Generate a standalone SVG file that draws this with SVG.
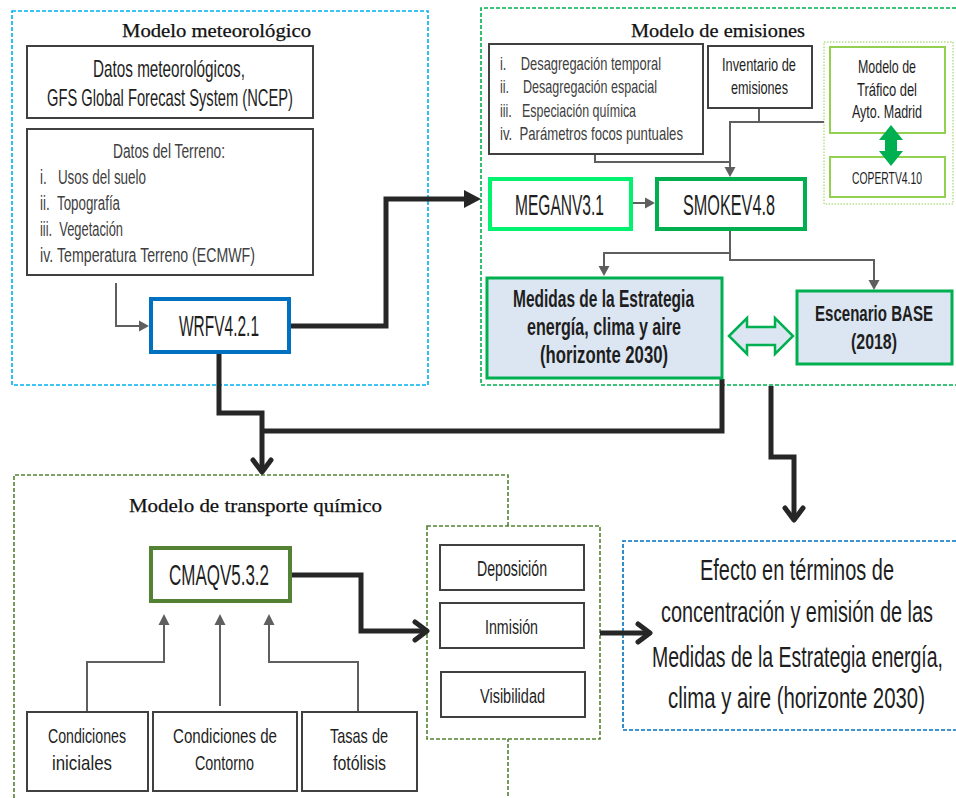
<svg xmlns="http://www.w3.org/2000/svg" width="956" height="798" viewBox="0 0 956 798">
<style>
.bg{fill:#ffffff}
.box{fill:#ffffff;stroke:#404040;stroke-width:2}
.t{font-family:"Liberation Sans",Arial,sans-serif;fill:#1e1e1e}
.g{fill:#404040}
.b{font-weight:bold}
.ttl{font-family:"Liberation Serif","DejaVu Serif",serif;fill:#111111;font-size:18px;stroke:#111111;stroke-width:0.25}
.thin{fill:none;stroke:#5f5f5f;stroke-width:2}
.thinhead{fill:#5f5f5f}
.thick{fill:none;stroke:#262626;stroke-width:5;stroke-linejoin:miter}
.chev{fill:none;stroke:#262626;stroke-width:5;stroke-linecap:round;stroke-linejoin:round}
.dash{fill:none;stroke-width:1.6;stroke-dasharray:4 2}
</style>
<rect class="bg" x="0" y="0" width="956" height="798"/>

<!-- containers -->
<g id="cont-meteo">
<rect class="dash" x="12" y="11" width="416" height="374" stroke="#00b0f0"/>
<text class="ttl" x="122" y="37" textLength="189" lengthAdjust="spacingAndGlyphs">Modelo meteorológico</text>
</g>
<g id="cont-emis">
<path class="dash" d="M956,8 H481 V385 H956" stroke="#00b050"/>
<text class="ttl" x="631" y="37" textLength="174" lengthAdjust="spacingAndGlyphs">Modelo de emisiones</text>
</g>
<g id="cont-trafico">
<rect x="824" y="42" width="129" height="162" fill="none" stroke="#92d050" stroke-width="1" stroke-dasharray="1.5 1.5"/>
</g>
<g id="cont-cmaq">
<path class="dash" d="M14,798 V475 H508 V798" stroke="#548235"/>
<text class="ttl" x="129" y="512" style="font-size:19px" textLength="253" lengthAdjust="spacingAndGlyphs">Modelo de transporte químico</text>
</g>
<g id="cont-salidas">
<rect class="dash" x="427" y="526" width="173" height="213" style="fill:#ffffff" stroke="#548235"/>
</g>
<g id="cont-efecto">
<path class="dash" d="M956,541 H623 V730 H956" stroke="#0070c0"/>
<text class="t" transform="translate(700,580) scale(0.7,1)" font-size="29" textLength="277.1" lengthAdjust="spacingAndGlyphs">Efecto en términos de</text>
<text class="t" transform="translate(661,622) scale(0.7,1)" font-size="29" textLength="388.6" lengthAdjust="spacingAndGlyphs">concentración y emisión de las</text>
<text class="t" transform="translate(652,667) scale(0.7,1)" font-size="29" textLength="415.7" lengthAdjust="spacingAndGlyphs">Medidas de la Estrategia energía,</text>
<text class="t" transform="translate(668,708) scale(0.7,1)" font-size="29" textLength="367.1" lengthAdjust="spacingAndGlyphs">clima y aire (horizonte 2030)</text>
</g>

<!-- connectors -->
<g id="connectors">
<path class="thin" d="M116,283 V326 H140"/>
<polygon class="thinhead" points="149,326 139,320.5 139,331.5"/>
<path class="thin" d="M595,154 V162 H730"/>
<path class="thin" d="M759,108 V122"/>
<path class="thin" d="M824,122 H730 V168"/>
<polygon class="thinhead" points="730,177 724.5,167 735.5,167"/>
<path class="thin" d="M632,203 H646"/>
<polygon class="thinhead" points="655,203 645,197.5 645,208.5"/>
<path class="thin" d="M730,230 V253 H604 V267"/>
<polygon class="thinhead" points="604,276 598.5,266 609.5,266"/>
<path class="thin" d="M730,253 V260 H874 V281"/>
<polygon class="thinhead" points="874,290 868.5,280 879.5,280"/>
<path class="thin" d="M87,712 V662 H164 V624"/>
<polygon class="thinhead" points="164,614 158.5,625 169.5,625"/>
<path class="thin" d="M220,706 V624"/>
<polygon class="thinhead" points="220,614 214.5,625 225.5,625"/>
<path class="thin" d="M358,712 V662 H269 V624"/>
<polygon class="thinhead" points="269,614 263.5,625 274.5,625"/>

<path class="thick" d="M291,326 H386 V199 H466"/>
<polygon fill="#262626" points="481,199 464,190 464,208"/>
<path class="thick" d="M219,354 V413 H262 V471"/>
<polyline class="chev" points="253,460 262,472 271,460"/>
<path class="thick" d="M722,379 V431 H262"/>
<path class="thick" d="M771,386 V457 H794 V519"/>
<polyline class="chev" points="785,508 794,520 803,508"/>
<path class="thick" d="M291,575 H361 V631 H427"/>
<polyline class="chev" points="415,622 427,631 415,640"/>
<path class="thick" d="M600,633 H650"/>
<polyline class="chev" points="638,624 650,633 638,642"/>

<polygon fill="#dce6f2" stroke="#00b050" stroke-width="2.5" stroke-linejoin="miter" points="729,336 747,318 747,327 775,327 775,318 793,336 775,354 775,345 747,345 747,354"/>
</g>

<!-- nodes -->
<g id="datos-met">
<rect class="box" x="27" y="46" width="286" height="72"/>
<text class="t" transform="translate(93,77) scale(0.7,1)" font-size="23" textLength="217.1" lengthAdjust="spacingAndGlyphs">Datos meteorológicos,</text>
<text class="t" transform="translate(47,106) scale(0.7,1)" font-size="23" textLength="351.4" lengthAdjust="spacingAndGlyphs">GFS Global Forecast System (NCEP)</text>
</g>
<g id="datos-terreno">
<rect class="box" x="27" y="129" width="286" height="146"/>
<text class="t g" transform="translate(113,158) scale(0.7,1)" font-size="21" textLength="160" lengthAdjust="spacingAndGlyphs">Datos del Terreno:</text>
<text class="t g" transform="translate(40,184) scale(0.7,1)" font-size="21" textLength="151.4" lengthAdjust="spacingAndGlyphs">i.&#160;&#160;&#160;Usos del suelo</text>
<text class="t g" transform="translate(40,210) scale(0.7,1)" font-size="21" textLength="114.3" lengthAdjust="spacingAndGlyphs">ii.&#160;&#160;Topografía</text>
<text class="t g" transform="translate(40,236) scale(0.7,1)" font-size="21" textLength="118.6" lengthAdjust="spacingAndGlyphs">iii.&#160;&#160;Vegetación</text>
<text class="t g" transform="translate(40,262) scale(0.7,1)" font-size="21" textLength="307.1" lengthAdjust="spacingAndGlyphs">iv.&#160;Temperatura Terreno (ECMWF)</text>
</g>
<g id="wrf">
<rect x="151" y="299" width="138" height="53" fill="#ffffff" stroke="#0070c0" stroke-width="4"/>
<text class="t" transform="translate(179,336) scale(0.7,1)" font-size="29" textLength="114.3" lengthAdjust="spacingAndGlyphs">WRFV4.2.1</text>
</g>
<g id="procesos">
<rect class="box" x="489" y="44" width="214" height="110"/>
<text class="t g" transform="translate(500,70) scale(0.7,1)" font-size="18" textLength="230" lengthAdjust="spacingAndGlyphs">i.&#160;&#160;&#160;&#160;Desagregación temporal</text>
<text class="t g" transform="translate(500,93) scale(0.7,1)" font-size="18" textLength="224.3" lengthAdjust="spacingAndGlyphs">ii.&#160;&#160;&#160;&#160;Desagregación espacial</text>
<text class="t g" transform="translate(500,117) scale(0.7,1)" font-size="18" textLength="194.3" lengthAdjust="spacingAndGlyphs">iii.&#160;&#160;&#160;Especiación química</text>
<text class="t g" transform="translate(500,140) scale(0.7,1)" font-size="18" textLength="261.4" lengthAdjust="spacingAndGlyphs">iv.&#160;&#160;Parámetros focos puntuales</text>
</g>
<g id="inventario">
<rect class="box" x="708" y="46" width="104" height="62"/>
<text class="t" transform="translate(722,71) scale(0.7,1)" font-size="18" textLength="105.7" lengthAdjust="spacingAndGlyphs">Inventario de</text>
<text class="t" transform="translate(731,94) scale(0.7,1)" font-size="18" textLength="81.4" lengthAdjust="spacingAndGlyphs">emisiones</text>
</g>
<g id="trafico">
<rect x="830" y="47" width="115" height="86" fill="#ffffff" stroke="#92d050" stroke-width="2"/>
<text class="t" transform="translate(858,73) scale(0.7,1)" font-size="18" textLength="82.9" lengthAdjust="spacingAndGlyphs">Modelo de</text>
<text class="t" transform="translate(857,96) scale(0.7,1)" font-size="18" textLength="85.7" lengthAdjust="spacingAndGlyphs">Tráfico del</text>
<text class="t" transform="translate(852,118) scale(0.7,1)" font-size="18" textLength="100" lengthAdjust="spacingAndGlyphs">Ayto. Madrid</text>
</g>
<g id="copert">
<rect x="830" y="157" width="115" height="40" fill="#ffffff" stroke="#92d050" stroke-width="2"/>
<text class="t" transform="translate(852,184) scale(0.7,1)" font-size="17" textLength="100" lengthAdjust="spacingAndGlyphs">COPERTV4.10</text>
</g>
<g id="megan">
<rect x="490" y="179" width="141" height="50" fill="#ffffff" stroke="#00f26e" stroke-width="4"/>
<text class="t" transform="translate(515,215) scale(0.7,1)" font-size="29" textLength="127.1" lengthAdjust="spacingAndGlyphs">MEGANV3.1</text>
</g>
<g id="smoke">
<rect x="657" y="179" width="148" height="50" fill="#ffffff" stroke="#00b050" stroke-width="4"/>
<text class="t" transform="translate(683,215) scale(0.7,1)" font-size="29" textLength="131.4" lengthAdjust="spacingAndGlyphs">SMOKEV4.8</text>
</g>
<g id="medidas">
<rect x="487" y="278" width="235" height="100" fill="#dce6f2" stroke="#00b050" stroke-width="3"/>
<text class="t b" transform="translate(513,307) scale(0.7,1)" font-size="23" textLength="258.6" lengthAdjust="spacingAndGlyphs">Medidas de la Estrategia</text>
<text class="t b" transform="translate(527,335) scale(0.7,1)" font-size="23" textLength="220" lengthAdjust="spacingAndGlyphs">energía, clima y aire</text>
<text class="t b" transform="translate(540,363) scale(0.7,1)" font-size="23" textLength="182.9" lengthAdjust="spacingAndGlyphs">(horizonte 2030)</text>
</g>
<g id="escenario">
<rect x="797" y="291" width="155" height="73" fill="#dce6f2" stroke="#00b050" stroke-width="3"/>
<text class="t b" transform="translate(815,321) scale(0.7,1)" font-size="22" textLength="168.6" lengthAdjust="spacingAndGlyphs">Escenario BASE</text>
<text class="t b" transform="translate(851,349) scale(0.7,1)" font-size="22" textLength="65.7" lengthAdjust="spacingAndGlyphs">(2018)</text>
</g>
<g id="cmaq">
<rect x="151" y="548" width="139" height="53" fill="#ffffff" stroke="#548235" stroke-width="4"/>
<text class="t" transform="translate(169,585) scale(0.7,1)" font-size="30" textLength="142.9" lengthAdjust="spacingAndGlyphs">CMAQV5.3.2</text>
</g>
<g id="deposicion">
<rect class="box" x="440" y="545" width="144" height="45"/>
<text class="t" transform="translate(477,576) scale(0.7,1)" font-size="22" textLength="100" lengthAdjust="spacingAndGlyphs">Deposición</text>
</g>
<g id="inmision">
<rect class="box" x="440" y="603" width="144" height="45"/>
<text class="t" transform="translate(485,634) scale(0.7,1)" font-size="21" textLength="75.7" lengthAdjust="spacingAndGlyphs">Inmisión</text>
</g>
<g id="visibilidad">
<rect class="box" x="441" y="672" width="144" height="45"/>
<text class="t" transform="translate(480,703) scale(0.7,1)" font-size="21" textLength="92.9" lengthAdjust="spacingAndGlyphs">Visibilidad</text>
</g>
<g id="cond-iniciales">
<rect class="box" x="27" y="712" width="121" height="79"/>
<text class="t" transform="translate(48,743) scale(0.7,1)" font-size="20" textLength="111.4" lengthAdjust="spacingAndGlyphs">Condiciones</text>
<text class="t" transform="translate(52,770) scale(0.7,1)" font-size="20" textLength="85.7" lengthAdjust="spacingAndGlyphs">iniciales</text>
</g>
<g id="cond-contorno">
<rect class="box" x="153" y="712" width="144" height="79"/>
<text class="t" transform="translate(173,743) scale(0.7,1)" font-size="20" textLength="148.6" lengthAdjust="spacingAndGlyphs">Condiciones de</text>
<text class="t" transform="translate(195,770) scale(0.7,1)" font-size="20" textLength="84.3" lengthAdjust="spacingAndGlyphs">Contorno</text>
</g>
<g id="fotolisis">
<rect class="box" x="302" y="712" width="115" height="79"/>
<text class="t" transform="translate(330,743) scale(0.7,1)" font-size="20" textLength="82.9" lengthAdjust="spacingAndGlyphs">Tasas de</text>
<text class="t" transform="translate(333,770) scale(0.7,1)" font-size="20" textLength="75.7" lengthAdjust="spacingAndGlyphs">fotólisis</text>
</g>

<g id="connectors-top">
<polygon fill="#00b050" points="891,125 903,140 897,140 897,151 903,151 891,166 879,151 885,151 885,140 879,140"/>
</g>
</svg>
